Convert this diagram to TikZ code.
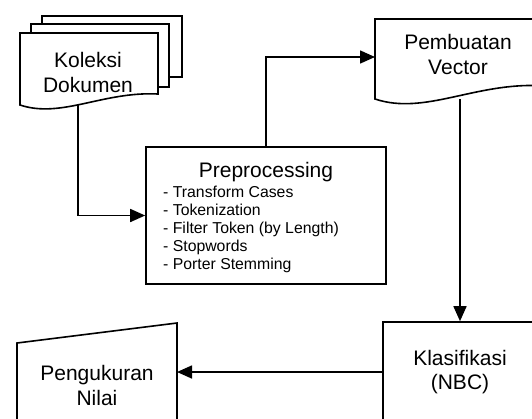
\documentclass[tikz,border=0pt]{standalone}
\usepackage{fontspec}
\setmainfont{Liberation Sans}
\usetikzlibrary{arrows.meta}
\begin{document}
\begin{tikzpicture}[x=1pt,y=-1pt,
  shp/.style={draw,line width=1.6pt,fill=white},
  lbl/.style={font=\fontsize{21}{24.5}\selectfont,align=center,inner sep=0pt},
  small/.style={font=\fontsize{15.8}{18}\selectfont,align=left,inner sep=0pt},
  conn/.style={line width=1.6pt,-{Triangle[length=15pt,width=13pt]}}]
\useasboundingbox (0,0) rectangle (532,418);
\clip (0,0) rectangle (532,418);
% Koleksi Dokumen (multi-document)
\draw[shp] (42,16) rectangle (182,77);
\draw[shp] (31,24) rectangle (169,87);
\draw[shp] (20,105) -- (20,33) -- (158,33) -- (158,94)
  .. controls (102.8,91.2) and (61.4,118.8) .. (20,105) -- cycle;
\node[lbl] (kol) at (88,72.5) {Koleksi\\Dokumen};
\coordinate (kolB) at (78,105);
% Preprocessing
\node[shp,minimum width=240pt,minimum height=137pt,inner sep=0pt] (pre) at (266,215.5) {};
\node[lbl] (pret) at (266,172) {Preprocessing};
\node[small,anchor=north west] (prel) at (163,186) {- Transform Cases\\- Tokenization\\- Filter Token (by Length)\\- Stopwords\\- Porter Stemming};
% Pembuatan Vector
\draw[shp] (375,99) -- (375,19) -- (560,19) -- (560,84) -- (541,85.7)
  .. controls (474.6,82.4) and (424.8,115.6) .. (375,99) -- cycle;
\node[lbl] (pem) at (458,54.5) {Pembuatan\\Vector};
\coordinate (pemW) at (375,57);
\coordinate (pemB) at (460,99);
% Klasifikasi
\node[shp,lbl,minimum width=154pt,minimum height=100pt] (kla) at (460,372) {Klasifikasi\\(NBC)};
% Pengukuran Nilai (manual input)
\draw[shp] (17,440) -- (17,343) -- (177,323) -- (177,440);
\node[lbl] (pen) at (97,385.5) {Pengukuran\\Nilai};
\coordinate (penE) at (177,370);
% connectors
\draw[conn] (kolB) |- (pre.west);
\draw[conn] (pre.north) |- (pemW);
\draw[conn] (pemB) -- (kla.north);
\draw[conn] (kla.west) -- (kla.west -| penE);
\end{tikzpicture}
\end{document}
